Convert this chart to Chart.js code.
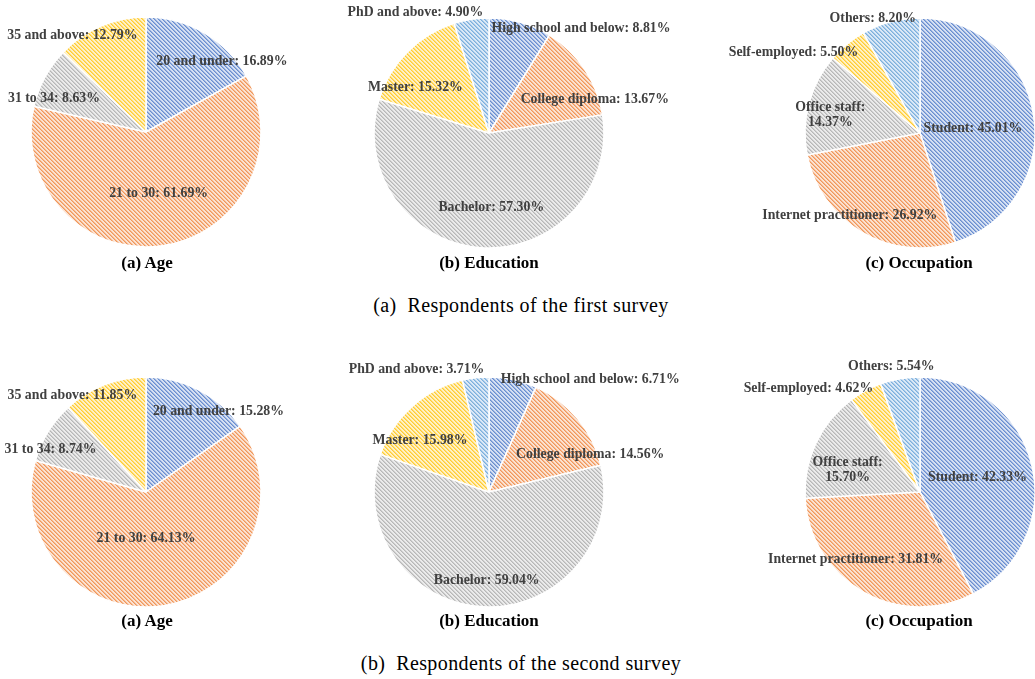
<!DOCTYPE html>
<html>
<head>
<meta charset="utf-8">
<script src="https://cdn.jsdelivr.net/npm/chart.js@4"></script>
<style>
  html, body { margin: 0; padding: 0; background: #fff; overflow: hidden; }
  body { width: 1035px; height: 679px; position: relative; }
  .pie { position: absolute; width: 420px; height: 270px; }
  .sub { position: absolute; font: bold 17px "Liberation Serif", serif; color: #000; transform: translate(-50%, -50%); white-space: nowrap; }
  .cap { position: absolute; font: 20px "Liberation Serif", serif; letter-spacing: 0.4px; color: #000; transform: translate(-50%, -50%); white-space: nowrap; }
</style>
</head>
<body>
<script>
const ageLabels = ['20 and under', '21 to 30', '31 to 34', '35 and above'];
const age1 = [16.89, 61.69, 8.63, 12.79];
const age2 = [15.28, 64.13, 8.74, 11.85];

const eduLabels = ['High school and below', 'College diploma', 'Bachelor', 'Master', 'PhD and above'];
const edu1 = [8.81, 13.67, 57.30, 15.32, 4.90];
const edu2 = [6.71, 14.56, 59.04, 15.98, 3.71];

const occLabels = ['Student', 'Internet practitioner', 'Office staff', 'Self-employed', 'Others'];
const occ1 = [45.01, 26.92, 14.37, 5.50, 8.20];
const occ2 = [42.33, 31.81, 15.70, 4.62, 5.54];

const SLICE_COLORS = [[68, 114, 196], [237, 125, 49], [165, 165, 165], [255, 192, 0], [91, 155, 213]];

function tint(rgb, w) {
    return 'rgb(' + rgb.map(v => Math.round(v + (255 - v) * w)).join(',') + ')';
}

// diagonal hatch (downward stripes, 4px period), soft like the scanned figure
function hatch(rgb) {
    const c = document.createElement('canvas');
    c.width = 4; c.height = 4;
    const x = c.getContext('2d');
    x.fillStyle = tint(rgb, 0.78);
    x.fillRect(0, 0, 4, 4);
    x.fillStyle = tint(rgb, 0.2);
    for (let i = 0; i < 4; i++) {
        for (let j = 0; j < 4; j++) {
            const d = ((i - j) % 4 + 4) % 4;
            if (d === 0) x.fillRect(i, j, 1, 1);
        }
    }
    x.fillStyle = tint(rgb, 0.45);
    for (let i = 0; i < 4; i++) {
        for (let j = 0; j < 4; j++) {
            const d = ((i - j) % 4 + 4) % 4;
            if (d === 1) x.fillRect(i, j, 1, 1);
        }
    }
    return x.createPattern(c, 'repeat');
}

const sliceLabels = {
    id: 'sliceLabels',
    afterDatasetsDraw(chart, args, opts) {
        const ctx = chart.ctx;
        const meta = chart.getDatasetMeta(0);
        const values = chart.data.datasets[0].data;
        ctx.save();
        ctx.font = 'bold 13.8px "Liberation Serif"';
        ctx.fillStyle = '#404040';
        ctx.textAlign = 'center';
        ctx.textBaseline = 'middle';
        meta.data.forEach((arc, i) => {
            const [lx, ly] = opts.pos[i];
            const x = arc.x + lx * arc.outerRadius;
            const y = arc.y + ly * arc.outerRadius;
            const name = chart.data.labels[i] + ':';
            const pct = values[i].toFixed(2) + '%';
            if (opts.wrap && opts.wrap.includes(i)) {
                ctx.fillText(name, x, y - 7.5);
                ctx.fillText(pct, x, y + 7.5);
            } else {
                ctx.fillText(name + ' ' + pct, x, y);
            }
        });
        ctx.restore();
    }
};

function makePie(cx, cy, labels, values, pos, wrap) {
    const canvas = document.createElement('canvas');
    canvas.className = 'pie';
    canvas.width = 420; canvas.height = 270;
    canvas.style.left = (cx - 210) + 'px';
    canvas.style.top = (cy - 135) + 'px';
    document.body.appendChild(canvas);
    new Chart(canvas.getContext('2d'), {
        type: 'pie',
        data: {
            labels: labels,
            datasets: [{
                data: values,
                backgroundColor: SLICE_COLORS.slice(0, values.length).map(hatch),
                borderColor: '#fff',
                borderWidth: 1.5
            }]
        },
        options: {
            responsive: false,
            animation: false,
            radius: 115,
            layout: { padding: 0 },
            plugins: {
                legend: { display: false },
                tooltip: { enabled: false },
                sliceLabels: { pos: pos, wrap: wrap }
            }
        },
        plugins: [sliceLabels]
    });
}

function addText(cls, txt, x, y) {
    const d = document.createElement('div');
    d.className = cls;
    d.style.left = x + 'px';
    d.style.top = y + 'px';
    d.innerHTML = txt;
    document.body.appendChild(d);
}

// first survey
makePie(146, 132, ageLabels, age1, [[0.66, -0.61], [0.11, 0.53], [-0.80, -0.29], [-0.64, -0.84]]);
makePie(489, 133, eduLabels, edu1, [[0.80, -0.91], [0.92, -0.29], [0.02, 0.65], [-0.64, -0.40], [-0.64, -1.05]]);
makePie(920, 133, occLabels, occ1, [[0.46, -0.04], [-0.61, 0.72], [-0.78, -0.16], [-1.10, -0.70], [-0.41, -1.00]], [2]);
addText('sub', '(a) Age', 147, 263);
addText('sub', '(b) Education', 489, 263);
addText('sub', '(c) Occupation', 919, 263);
addText('cap', '(a)&nbsp;&nbsp;Respondents of the first survey', 521, 305);

// second survey
makePie(146, 492, ageLabels, age2, [[0.63, -0.70], [0.00, 0.40], [-0.83, -0.37], [-0.64, -0.84]]);
makePie(489, 492, eduLabels, edu2, [[0.88, -0.98], [0.88, -0.33], [-0.02, 0.77], [-0.60, -0.45], [-0.63, -1.07]]);
makePie(920, 492, occLabels, occ2, [[0.50, -0.13], [-0.56, 0.59], [-0.63, -0.19], [-0.97, -0.90], [-0.25, -1.09]], [2]);
addText('sub', '(a) Age', 147, 621);
addText('sub', '(b) Education', 489, 621);
addText('sub', '(c) Occupation', 919, 621);
addText('cap', '(b)&nbsp;&nbsp;Respondents of the second survey', 521, 663);
</script>
</body>
</html>
